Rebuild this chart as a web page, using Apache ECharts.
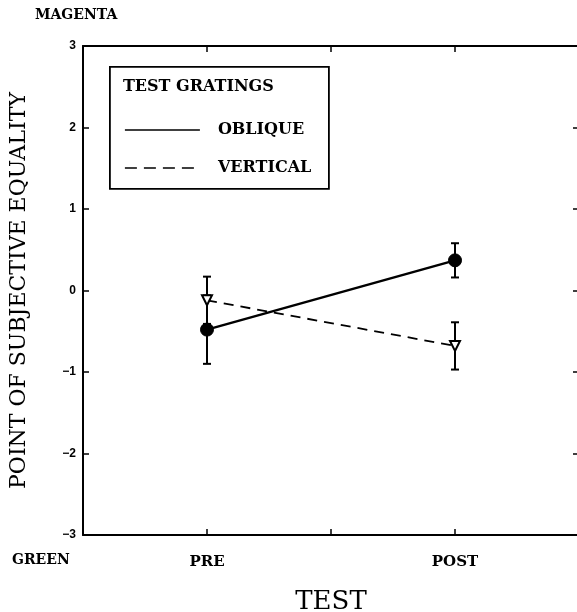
<!DOCTYPE html>
<html>
<head>
<meta charset="utf-8">
<script src="https://cdn.jsdelivr.net/npm/echarts@6/dist/echarts.min.js"></script>
<style>
  html, body { margin: 0; padding: 0; background: #fff; }
  #main { width: 577px; height: 612px; }
</style>
</head>
<body>
<div id="main"></div>
<script>
// x positions of the two test sessions on a 0..4 axis
var testNames = ['PRE', 'POST'];
var testX = [1, 3];

// point of subjective equality, mean and error half-width
var obliqueMean = [-0.48, 0.37];
var obliqueErr = [0.42, 0.21];
var verticalMean = [-0.12, -0.68];
var verticalErr = [0.29, 0.29];

var yTicks = [-3, -2, -1, 0, 1, 2, 3];

var serif = 'DejaVu Serif';

function points(mean) {
    var out = [];
    for (var i = 0; i < testX.length; i++) {
        out.push([testX[i], mean[i]]);
    }
    return out;
}

function errBars(mean, err) {
    var out = [];
    for (var i = 0; i < testX.length; i++) {
        out.push([testX[i], mean[i] - err[i], mean[i] + err[i]]);
    }
    return out;
}

// error bar with small caps
function renderErr(params, api) {
    var lo = api.coord([api.value(0), api.value(1)]);
    var hi = api.coord([api.value(0), api.value(2)]);
    var w = 4;
    var st = { stroke: '#000', lineWidth: 2 };
    return {
        type: 'group',
        children: [
            { type: 'line', shape: { x1: lo[0], y1: lo[1], x2: hi[0], y2: hi[1] }, style: st },
            { type: 'line', shape: { x1: lo[0] - w, y1: lo[1], x2: lo[0] + w, y2: lo[1] }, style: st },
            { type: 'line', shape: { x1: hi[0] - w, y1: hi[1], x2: hi[0] + w, y2: hi[1] }, style: st }
        ]
    };
}

var axisLine = { show: true, onZero: false, lineStyle: { color: '#000', width: 2 } };
var tickIn = { show: true, inside: true, length: 6, lineStyle: { color: '#000', width: 1.5 } };

var myChart = echarts.init(document.getElementById('main'));

var option = {
    backgroundColor: '#fff',
    animation: false,
    grid: { left: 83, top: 46, width: 496, height: 489, containLabel: false, outerBoundsMode: 'none' },
    xAxis: [
        {
            type: 'value', min: 0, max: 4, interval: 1, position: 'bottom',
            axisLine: axisLine, axisTick: tickIn, splitLine: { show: false },
            axisLabel: {
                margin: 20, color: '#000', fontFamily: serif, fontWeight: 'bold', fontSize: 15,
                formatter: function (v) {
                    var i = testX.indexOf(v);
                    return i >= 0 ? testNames[i] : '';
                }
            },
            name: 'TEST', nameLocation: 'middle', nameGap: 54,
            nameTextStyle: { color: '#000', fontFamily: serif, fontSize: 26 }
        },
        {
            type: 'value', min: 0, max: 4, interval: 1, position: 'top',
            axisLine: axisLine, axisTick: tickIn, splitLine: { show: false },
            axisLabel: { show: false }
        }
    ],
    yAxis: [
        {
            type: 'value', min: yTicks[0], max: yTicks[yTicks.length - 1], interval: 1, position: 'left',
            axisLine: axisLine, axisTick: tickIn, splitLine: { show: false },
            axisLabel: {
                margin: 7, color: '#000', fontFamily: 'Liberation Sans', fontWeight: 'bold', fontSize: 12,
                formatter: function (v) { return v < 0 ? '\u2212' + (-v) : '' + v; }
            },
            name: 'POINT OF SUBJECTIVE EQUALITY', nameLocation: 'middle', nameGap: 53,
            nameTextStyle: { color: '#000', fontFamily: serif, fontSize: 22 }
        },
        {
            type: 'value', min: yTicks[0], max: yTicks[yTicks.length - 1], interval: 1, position: 'right',
            axisLine: axisLine, axisTick: tickIn, splitLine: { show: false },
            axisLabel: { show: false }
        }
    ],
    graphic: [
        { type: 'text', left: 35, top: 8, style: { text: 'MAGENTA', fill: '#000', font: 'bold 14px "DejaVu Serif"' } },
        { type: 'text', left: 12, top: 553, style: { text: 'GREEN', fill: '#000', font: 'bold 14px "DejaVu Serif"' } },
        {
            type: 'group', left: 109, top: 66,
            children: [
                { type: 'rect', shape: { x: 0, y: 0, width: 219, height: 122 }, style: { fill: '#fff', stroke: '#000', lineWidth: 1.8 } },
                { type: 'text', x: 13, y: 20, style: { text: 'TEST GRATINGS', fill: '#000', font: 'bold 16px "DejaVu Serif"', verticalAlign: 'middle' } },
                { type: 'line', shape: { x1: 15, y1: 63, x2: 90, y2: 63 }, style: { stroke: '#000', lineWidth: 1.5 } },
                { type: 'text', x: 108, y: 63, style: { text: 'OBLIQUE', fill: '#000', font: 'bold 16px "DejaVu Serif"', verticalAlign: 'middle' } },
                { type: 'line', shape: { x1: 15, y1: 101, x2: 90, y2: 101 }, style: { stroke: '#000', lineWidth: 1.5, lineDash: [12, 7] } },
                { type: 'text', x: 108, y: 101, style: { text: 'VERTICAL', fill: '#000', font: 'bold 16px "DejaVu Serif"', verticalAlign: 'middle' } }
            ]
        }
    ],
    series: [
        { type: 'custom', name: 'oblique err', renderItem: renderErr, data: errBars(obliqueMean, obliqueErr), z: 2 },
        { type: 'custom', name: 'vertical err', renderItem: renderErr, data: errBars(verticalMean, verticalErr), z: 2 },
        {
            type: 'line', name: 'OBLIQUE', data: points(obliqueMean), z: 3,
            symbol: 'circle', symbolSize: 13,
            lineStyle: { color: '#000', width: 2.5 },
            itemStyle: { color: '#000', borderColor: '#000' }
        },
        {
            type: 'line', name: 'VERTICAL', data: points(verticalMean), z: 4,
            symbol: 'triangle', symbolRotate: 180, symbolSize: 10,
            lineStyle: { color: '#000', width: 1.8, type: [10, 7] },
            itemStyle: { color: '#fff', borderColor: '#000', borderWidth: 2 }
        }
    ]
};

myChart.setOption(option);
</script>
</body>
</html>
